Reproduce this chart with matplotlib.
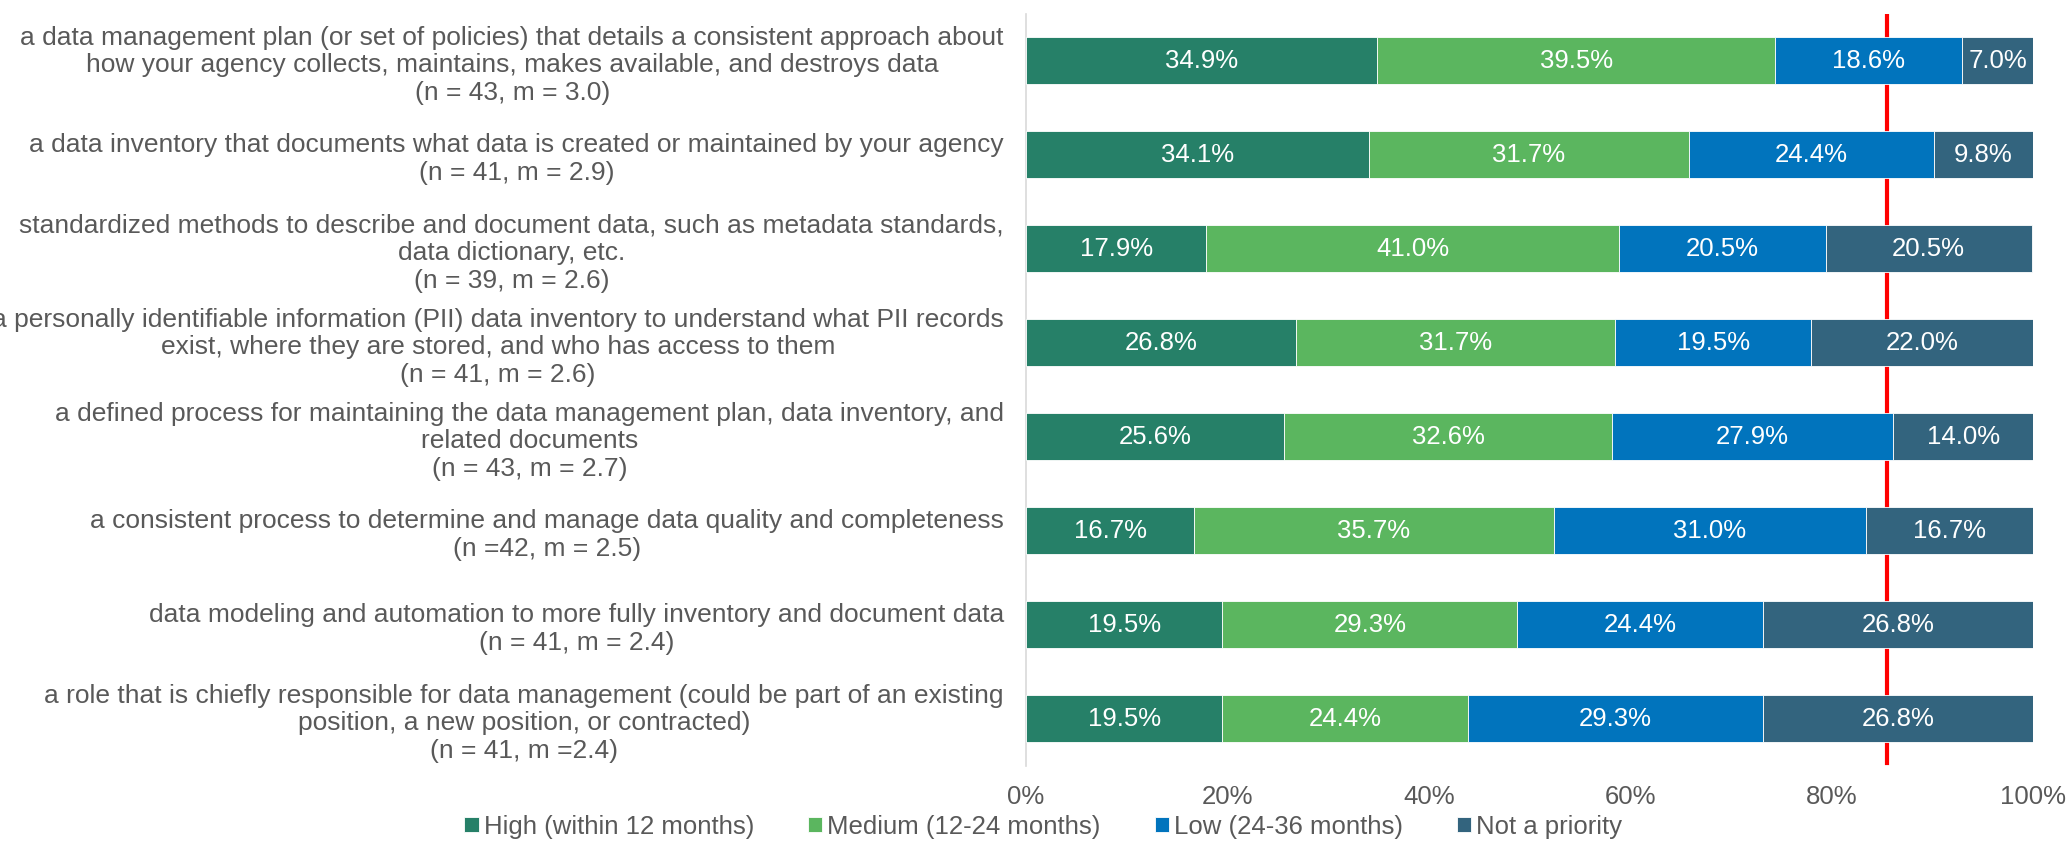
import numpy as np
import matplotlib
matplotlib.use('Agg')
import matplotlib.pyplot as plt

plt.rcParams['font.family'] = ['Liberation Sans', 'DejaVu Sans']

# Data
items = [
    'a data management plan (or set of policies) that details a consistent approach about\n'
    'how your agency collects, maintains, makes available, and destroys data\n(n = 43, m = 3.0)',
    'a data inventory that documents what data is created or maintained by your agency\n(n = 41, m = 2.9)',
    'standardized methods to describe and document data, such as metadata standards,\n'
    'data dictionary, etc.\n(n = 39, m = 2.6)',
    'a personally identifiable information (PII) data inventory to understand what PII records\n'
    'exist, where they are stored, and who has access to them\n(n = 41, m = 2.6)',
    'a defined process for maintaining the data management plan, data inventory, and\n'
    'related documents\n(n = 43, m = 2.7)',
    'a consistent process to determine and manage data quality and completeness\n(n =42, m = 2.5)',
    'data modeling and automation to more fully inventory and document data\n(n = 41, m = 2.4)',
    'a role that is chiefly responsible for data management (could be part of an existing\n'
    'position, a new position, or contracted)\n(n = 41, m =2.4)',
]

series = ['High (within 12 months)', 'Medium (12-24 months)', 'Low (24-36 months)', 'Not a priority']
high = [34.9, 34.1, 17.9, 26.8, 25.6, 16.7, 19.5, 19.5]
medium = [39.5, 31.7, 41.0, 31.7, 32.6, 35.7, 29.3, 24.4]
low = [18.6, 24.4, 20.5, 19.5, 27.9, 31.0, 24.4, 29.3]
not_priority = [7.0, 9.8, 20.5, 22.0, 14.0, 16.7, 26.8, 26.8]
colors = ['#268068', '#5bb65f', '#0174bd', '#33647e']

ref_line = 0.855

# Plot
fig = plt.figure(figsize=(20.7, 8.41), dpi=100)
ax = fig.add_axes([0.4957, 0.0892, 0.4864, 0.8942])

y = np.arange(len(items))
left = np.zeros(len(items))
for name, vals, c in zip(series, [high, medium, low, not_priority], colors):
    w = np.array(vals) / 100
    ax.barh(y, w, left=left, height=0.5, color=c, edgecolor='white', linewidth=0.6,
            label=name, zorder=3)
    for yi, li, wi, v in zip(y, left, w, vals):
        ax.text(li + wi / 2, yi, f'{v:.1f}%', ha='center', va='center', color='white',
                fontsize=18.5, zorder=4)
    left += w

# red reference line sits behind the bars
ax.axvline(ref_line, ymin=0.004, ymax=1.0, color='#ff0000', linewidth=3, zorder=2)

ax.set_xlim(0, 1)
ax.set_ylim(len(items) - 0.5, -0.5)
ax.set_xticks(np.linspace(0, 1, 6))
ax.set_xticklabels([f'{int(t)}%' for t in np.linspace(0, 100, 6)])
ax.set_yticks(y)
ax.set_yticklabels(items, multialignment='center')
ax.tick_params(axis='both', length=0, labelsize=18.5, labelcolor='#595959')
ax.tick_params(axis='y', labelsize=19, pad=16)
ax.tick_params(axis='x', pad=14)
for lbl in ax.get_yticklabels():
    lbl.set_linespacing(1.2)

for s in ['top', 'right', 'bottom']:
    ax.spines[s].set_visible(False)
ax.spines['left'].set_color('#d9d9d9')
ax.spines['left'].set_linewidth(1.2)

leg = fig.legend(loc='center', bbox_to_anchor=(0.504, 0.017), ncol=4, frameon=False,
                 fontsize=18.5, handlelength=0.55, handleheight=0.55, handletextpad=0.2,
                 columnspacing=2.1, labelcolor='#595959')

fig.savefig('out.png', dpi=100)
